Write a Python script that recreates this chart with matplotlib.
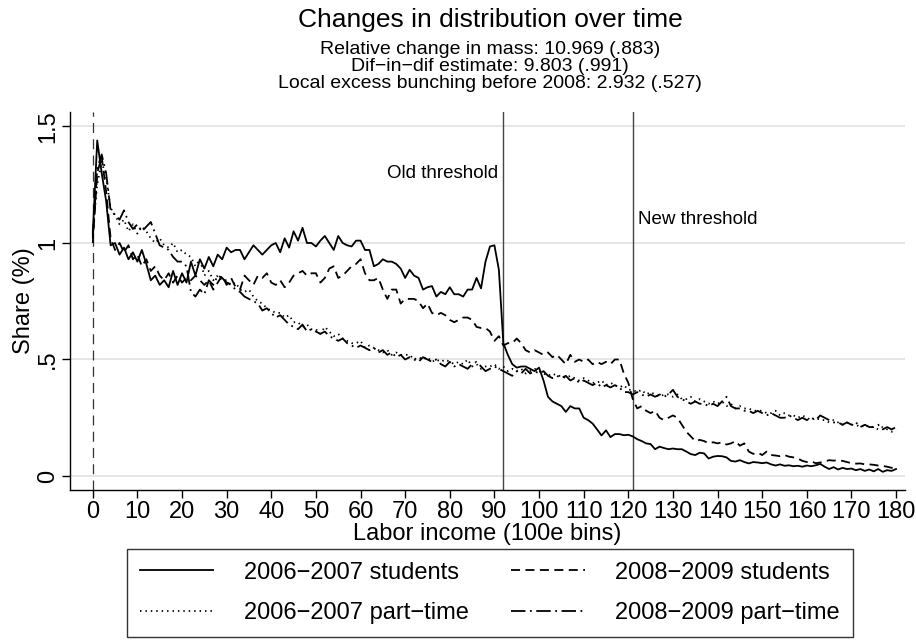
import matplotlib
matplotlib.use('Agg')
import numpy as np
from matplotlib import pyplot as plt

plt.rcParams['font.family'] = ['Liberation Sans', 'DejaVu Sans']

# income bins (100e), 0..180
BINS = list(range(0, 181))

STUDENTS_0607 = [
    1.04, 1.44, 1.30, 1.18, 0.99, 1.00, 0.95, 0.98, 0.93, 0.96,
    0.92, 0.97, 0.91, 0.84, 0.86, 0.82, 0.84, 0.81, 0.88, 0.82,
    0.87, 0.83, 0.92, 0.86, 0.93, 0.89, 0.94, 0.90, 0.95, 0.93,
    0.98, 0.96, 0.97, 0.97, 0.93, 0.96, 0.99, 0.97, 0.95, 0.97,
    0.99, 1.00, 0.96, 1.02, 0.98, 1.05, 1.01, 1.065, 1.00, 1.00,
    0.985, 1.01, 1.03, 1.00, 0.97, 1.03, 1.00, 0.99, 0.985, 1.01,
    1.01, 0.97, 0.97, 0.90, 0.91, 0.93, 0.92, 0.92, 0.91, 0.89,
    0.85, 0.885, 0.86, 0.85, 0.80, 0.81, 0.815, 0.77, 0.79, 0.78,
    0.81, 0.78, 0.78, 0.77, 0.80, 0.80, 0.85, 0.805, 0.92, 0.985,
    0.99, 0.885, 0.57, 0.52, 0.48, 0.465, 0.47, 0.47, 0.46, 0.45,
    0.465, 0.41, 0.34, 0.32, 0.31, 0.30, 0.275, 0.30, 0.29, 0.29,
    0.25, 0.24, 0.225, 0.20, 0.174, 0.196, 0.167, 0.18, 0.18, 0.175,
    0.177, 0.17, 0.158, 0.15, 0.14, 0.137, 0.115, 0.126, 0.12, 0.115,
    0.118, 0.115, 0.115, 0.105, 0.094, 0.09, 0.10, 0.097, 0.075, 0.083,
    0.086, 0.085, 0.08, 0.065, 0.062, 0.068, 0.06, 0.054, 0.06, 0.058,
    0.055, 0.058, 0.05, 0.045, 0.05, 0.044, 0.046, 0.042, 0.044, 0.04,
    0.045, 0.042, 0.046, 0.052, 0.04, 0.03, 0.038, 0.028, 0.035, 0.03,
    0.032, 0.025, 0.03, 0.022, 0.028, 0.02, 0.03, 0.018, 0.025, 0.022,
    0.03,
]

STUDENTS_0809 = [
    1.00, 1.30, 1.37, 1.22, 1.02, 0.97, 1.00, 0.96, 0.99, 0.93,
    0.95, 0.90, 0.93, 0.88, 0.90, 0.86, 0.84, 0.87, 0.83, 0.86,
    0.83, 0.85, 0.84, 0.86, 0.84, 0.82, 0.84, 0.80, 0.83, 0.86,
    0.82, 0.85, 0.81, 0.80, 0.86, 0.84, 0.82, 0.86, 0.85, 0.87,
    0.83, 0.82, 0.84, 0.81, 0.83, 0.86, 0.87, 0.88, 0.86, 0.87,
    0.87, 0.83, 0.85, 0.89, 0.90, 0.85, 0.86, 0.88, 0.90, 0.91,
    0.93, 0.87, 0.84, 0.84, 0.85, 0.80, 0.76, 0.80, 0.80, 0.74,
    0.76, 0.76, 0.76, 0.75, 0.72, 0.74, 0.70, 0.69, 0.70, 0.69,
    0.67, 0.66, 0.67, 0.68, 0.68, 0.67, 0.64, 0.635, 0.635, 0.62,
    0.58, 0.60, 0.56, 0.57, 0.57, 0.59, 0.57, 0.54, 0.53, 0.54,
    0.53, 0.52, 0.53, 0.51, 0.52, 0.50, 0.48, 0.52, 0.49, 0.50,
    0.49, 0.50, 0.48, 0.49, 0.48, 0.49, 0.48, 0.50, 0.50, 0.44,
    0.40, 0.33, 0.29, 0.30, 0.28, 0.27, 0.28, 0.25, 0.24, 0.25,
    0.26, 0.25, 0.22, 0.19, 0.17, 0.15, 0.155, 0.15, 0.14, 0.145,
    0.14, 0.145, 0.135, 0.14, 0.15, 0.13, 0.14, 0.105, 0.095, 0.10,
    0.09, 0.105, 0.09, 0.088, 0.085, 0.09, 0.083, 0.08, 0.075, 0.065,
    0.06, 0.063, 0.055, 0.058, 0.062, 0.068, 0.066, 0.068, 0.065, 0.06,
    0.055, 0.053, 0.054, 0.05, 0.05, 0.048, 0.045, 0.043, 0.04, 0.035,
    0.04,
]

PARTTIME_0607 = [
    1.05, 1.25, 1.35, 1.28, 1.15, 1.12, 1.08, 1.10, 1.05, 1.08,
    1.04, 1.07, 1.05, 1.02, 1.00, 1.02, 0.99, 0.98, 1.00, 0.96,
    0.97, 0.95, 0.94, 0.90, 0.93, 0.86, 0.88, 0.84, 0.86, 0.84,
    0.84, 0.82, 0.83, 0.80, 0.79, 0.80, 0.77, 0.75, 0.74, 0.72,
    0.71, 0.70, 0.70, 0.68, 0.69, 0.66, 0.66, 0.64, 0.65, 0.63,
    0.63, 0.61, 0.64, 0.62, 0.60, 0.61, 0.59, 0.58, 0.57, 0.57,
    0.58, 0.55, 0.56, 0.55, 0.54, 0.53, 0.54, 0.52, 0.53, 0.52,
    0.52, 0.52, 0.50, 0.51, 0.50, 0.51, 0.49, 0.50, 0.49, 0.50,
    0.49, 0.48, 0.49, 0.48, 0.50, 0.47, 0.48, 0.46, 0.47, 0.47,
    0.48, 0.46, 0.47, 0.45, 0.46, 0.45, 0.46, 0.44, 0.45, 0.46,
    0.45, 0.44, 0.43, 0.44, 0.43, 0.43, 0.42, 0.43, 0.42, 0.41,
    0.42, 0.41, 0.40, 0.40, 0.41, 0.39, 0.40, 0.39, 0.38, 0.39,
    0.37, 0.37, 0.36, 0.37, 0.35, 0.36, 0.35, 0.34, 0.35, 0.35,
    0.34, 0.35, 0.33, 0.33, 0.34, 0.32, 0.33, 0.32, 0.31, 0.32,
    0.31, 0.32, 0.30, 0.31, 0.29, 0.30, 0.29, 0.29, 0.28, 0.28,
    0.28, 0.27, 0.27, 0.28, 0.26, 0.27, 0.26, 0.26, 0.25, 0.26,
    0.25, 0.24, 0.25, 0.24, 0.24, 0.23, 0.24, 0.23, 0.22, 0.23,
    0.22, 0.22, 0.21, 0.22, 0.21, 0.21, 0.20, 0.21, 0.20, 0.19,
    0.20,
]

PARTTIME_0809 = [
    1.02, 1.32, 1.38, 1.30, 1.14, 1.12, 1.10, 1.14, 1.09, 1.06,
    1.08, 1.05, 1.07, 1.09, 1.04, 0.99, 0.98, 0.97, 0.94, 0.92,
    0.92, 0.90, 0.79, 0.77, 0.80, 0.78, 0.84, 0.82, 0.86, 0.85,
    0.83, 0.82, 0.80, 0.79, 0.77, 0.76, 0.75, 0.74, 0.71, 0.72,
    0.70, 0.68, 0.69, 0.67, 0.65, 0.64, 0.63, 0.65, 0.62, 0.63,
    0.62, 0.61, 0.62, 0.60, 0.59, 0.58, 0.59, 0.57, 0.56, 0.55,
    0.56, 0.55, 0.54, 0.55, 0.53, 0.54, 0.52, 0.53, 0.51, 0.52,
    0.50, 0.51, 0.50, 0.49, 0.51, 0.50, 0.49, 0.50, 0.48, 0.47,
    0.49, 0.47, 0.48, 0.47, 0.46, 0.48, 0.49, 0.47, 0.45, 0.46,
    0.47, 0.46, 0.45, 0.44, 0.43, 0.45, 0.44, 0.46, 0.44, 0.45,
    0.44, 0.45, 0.43, 0.42, 0.43, 0.42, 0.43, 0.41, 0.42, 0.40,
    0.41, 0.40, 0.39, 0.40, 0.38, 0.39, 0.38, 0.39, 0.38, 0.36,
    0.36, 0.35, 0.36, 0.35, 0.34, 0.35, 0.34, 0.35, 0.34, 0.35,
    0.37, 0.34, 0.33, 0.32, 0.31, 0.32, 0.31, 0.31, 0.30, 0.31,
    0.30, 0.32, 0.34, 0.30, 0.29, 0.29, 0.28, 0.28, 0.27, 0.28,
    0.27, 0.26, 0.27, 0.26, 0.25, 0.25, 0.26, 0.25, 0.24, 0.25,
    0.24, 0.25, 0.24, 0.26, 0.25, 0.24, 0.23, 0.23, 0.22, 0.23,
    0.22, 0.23, 0.21, 0.22, 0.21, 0.21, 0.22, 0.20, 0.21, 0.20,
    0.21,
]

OLD_THRESHOLD = 92
NEW_THRESHOLD = 121

TITLE = 'Changes in distribution over time'
SUBTITLE = [
    'Relative change in mass: 10.969 (.883)',
    'Dif\u2212in\u2212dif estimate: 9.803 (.991)',
    'Local excess bunching before 2008: 2.932 (.527)',
]
LABELS = [
    '2006\u22122007 students',
    '2008\u22122009 students',
    '2006\u22122007 part\u2212time',
    '2008\u22122009 part\u2212time',
]

W, H = 916, 642
fig = plt.figure(figsize=(W / 100, H / 100), dpi=100)
# plot region in pixels: left 70, right 905, top 112, bottom 490
ax = fig.add_axes([70 / W, 1 - 490 / H, (905 - 70) / W, (490 - 112) / H])

ax.set_xlim(-5.1, 182.0)
ax.set_ylim(-0.06, 1.562)

ax.grid(axis='y', color='#e4e4e4', linewidth=1.3, zorder=0)
ax.set_axisbelow(True)

ax.axvline(0, color='#333333', linewidth=0.9, linestyle=(0, (8, 5)), zorder=1)
ax.axvline(OLD_THRESHOLD, color='#444444', linewidth=1.0, zorder=1)
ax.axvline(NEW_THRESHOLD, color='#444444', linewidth=1.0, zorder=1)

lw = 1.3
l1, = ax.plot(BINS, STUDENTS_0607, color='black', linewidth=lw,
              label=LABELS[0], zorder=3)
l2, = ax.plot(BINS, STUDENTS_0809, color='black', linewidth=lw,
              dashes=(5, 3), label=LABELS[1], zorder=3)
l3, = ax.plot(BINS, PARTTIME_0607, color='black', linewidth=lw,
              dashes=(0.8, 2.2), label=LABELS[2], zorder=3)
l4, = ax.plot(BINS, PARTTIME_0809, color='black', linewidth=lw,
              dashes=(8, 2.5, 1, 2.5), label=LABELS[3], zorder=3)

ax.text(OLD_THRESHOLD - 1.2, 1.30, 'Old threshold', ha='right',
        va='center', fontsize=13.5)
ax.text(NEW_THRESHOLD + 1.2, 1.10, 'New threshold', ha='left',
        va='center', fontsize=13.5)

ax.set_xticks(range(0, 181, 10))
ax.set_yticks([0, 0.5, 1, 1.5])
ax.set_yticklabels(['0', '.5', '1', '1.5'], rotation=90, va='center')
ax.tick_params(axis='both', direction='out', length=6, width=1,
               labelsize=17, color='black')
ax.tick_params(axis='x', pad=2)
ax.tick_params(axis='y', pad=2)
for side in ['top', 'right']:
    ax.spines[side].set_visible(False)
for side in ['left', 'bottom']:
    ax.spines[side].set_linewidth(1)

ax.set_xlabel('Labor income (100e bins)', fontsize=17, labelpad=0)
ax.set_ylabel('Share (%)', fontsize=17)
# right edge of the rotated y title sits near x = 35 px
ax.yaxis.set_label_coords((35 - 70) / (905 - 70), 0.5)

cx = 490 / W
fig.text(cx, 1 - 20 / H, TITLE, ha='center', va='center', fontsize=19)
for i, line in enumerate(SUBTITLE):
    fig.text(cx, 1 - (50 + 16.5 * i) / H, line, ha='center',
             va='center', fontsize=14)

leg = fig.legend(handles=[l1, l3, l2, l4],
                 labels=[LABELS[0], LABELS[2], LABELS[1], LABELS[3]],
                 ncol=2, loc='center', bbox_to_anchor=(cx, 1 - 593 / H),
                 fontsize=17, frameon=True, fancybox=False,
                 handlelength=3.1, handletextpad=1.3, columnspacing=1.8,
                 labelspacing=0.8, borderpad=0.55, borderaxespad=0)
leg.get_frame().set_edgecolor('black')
leg.get_frame().set_linewidth(1)

fig.savefig('out.png', dpi=100)
